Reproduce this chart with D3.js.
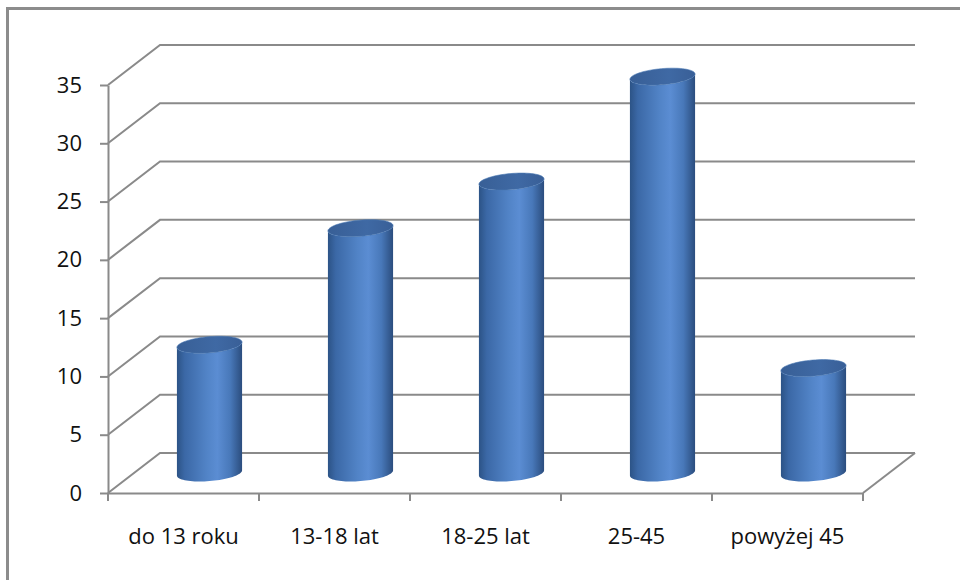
<!DOCTYPE html>
<html>
<head>
<meta charset="utf-8">
<script src="https://cdn.jsdelivr.net/npm/d3@7"></script>
<style>
  html, body { margin: 0; padding: 0; background: #fff; }
  svg { display: block; }
  text { font-family: "Open Sans", "Liberation Sans", sans-serif; fill: #111; }
</style>
</head>
<body>
<script>
const categories = ["do 13 roku", "13-18 lat", "18-25 lat", "25-45", "powyżej 45"];
const values = [11, 21, 25, 34, 9];
const yTicks = [0, 5, 10, 15, 20, 25, 30, 35];

const W = 960, H = 580;
const DX = 52, DY = -40;           // depth offset of back wall
const svg = d3.select("body").append("svg").attr("width", W).attr("height", H);

// outer frame (runs off right/bottom)
svg.append("rect").attr("x", 7.5).attr("y", 8.5).attr("width", 1100).attr("height", 1100)
  .attr("fill", "none").attr("stroke", "#8c8c8c").attr("stroke-width", 3);

const x = d3.scaleBand().domain(categories).range([108, 863]).padding(0);
const y = d3.scaleLinear().domain([0, 35]).range([493, 85]);
const x0 = x.range()[0], x1 = x.range()[1];

const grid = svg.append("g").attr("fill", "none").attr("stroke", "#8a8a8a").attr("stroke-width", 2);
yTicks.forEach(v => {
  grid.append("path").attr("d", `M${x0},${y(v)}L${x0 + DX},${y(v) + DY}L${x1 + DX},${y(v) + DY}`);
});
grid.append("path").attr("d", `M${x1},${y(0)}L${x1 + DX},${y(0) + DY}`);

// gradients
const defs = svg.append("defs");
const g1 = defs.append("linearGradient").attr("id", "body").attr("x1", 0).attr("x2", 1).attr("y1", 0).attr("y2", 0);
[[0, "#2c5386"], [0.12, "#3b68a6"], [0.45, "#5183c6"], [0.62, "#5b8dd3"], [0.82, "#4878b9"], [1, "#2b4d7e"]]
  .forEach(([o, c]) => g1.append("stop").attr("offset", o).attr("stop-color", c));
const g2 = defs.append("linearGradient").attr("id", "top").attr("x1", 0).attr("x2", 1).attr("y1", 0).attr("y2", 0);
[[0, "#385f96"], [0.6, "#3f69a4"], [1, "#395f97"]]
  .forEach(([o, c]) => g2.append("stop").attr("offset", o).attr("stop-color", c));

// cylinders
const RX = 31, A = 10, B = 8.5;
const tm = Math.atan2(A, RX);
function pt(cx, cy, t) { return [cx + RX * Math.cos(t) + A * Math.sin(t), cy - B * Math.sin(t)]; }
function arc(cx, cy, t0, t1, n = 40) {
  return d3.range(n + 1).map(i => pt(cx, cy, t0 + (t1 - t0) * i / n));
}
const line = d3.line();
const bars = svg.append("g");
categories.forEach((c, i) => {
  const cx = x(c) + x.bandwidth() / 2 + DX / 2;
  const cyB = y(0) + DY / 2;
  const cyT = y(values[i]) + DY / 2;
  const pts = [].concat(
    arc(cx, cyB, tm, tm - Math.PI),
    arc(cx, cyT, tm - Math.PI, tm)
  );
  bars.append("path").attr("d", line(pts) + "Z").attr("fill", "url(#body)");
  bars.append("path").attr("d", line(arc(cx, cyT, 0, 2 * Math.PI, 72)) + "Z")
    .attr("fill", "url(#top)").attr("stroke", "#4a78b4").attr("stroke-width", 0.6);
});

// axes
const yAxis = svg.append("g").attr("transform", `translate(${x0},0)`)
  .call(d3.axisLeft(y).tickValues(yTicks).tickSize(8).tickSizeOuter(0).tickPadding(18).tickFormat(d3.format("d")));
const xAxis = svg.append("g").attr("transform", `translate(0,${y(0)})`)
  .call(d3.axisBottom(x).tickSize(0).tickSizeOuter(0).tickPadding(35));
[yAxis, xAxis].forEach(g => {
  g.select(".domain").attr("stroke", "#8a8a8a").attr("stroke-width", 2);
  g.selectAll(".tick line").attr("stroke", "#8a8a8a").attr("stroke-width", 2);
  g.selectAll("text").attr("font-size", 22).attr("fill", "#111");
});
const bounds = categories.map(c => x(c)).concat([x1]);
svg.append("g").selectAll("line").data(bounds).join("line")
  .attr("x1", d => d).attr("x2", d => d).attr("y1", y(0)).attr("y2", y(0) + 8)
  .attr("stroke", "#8a8a8a").attr("stroke-width", 2);
</script>
</body>
</html>
